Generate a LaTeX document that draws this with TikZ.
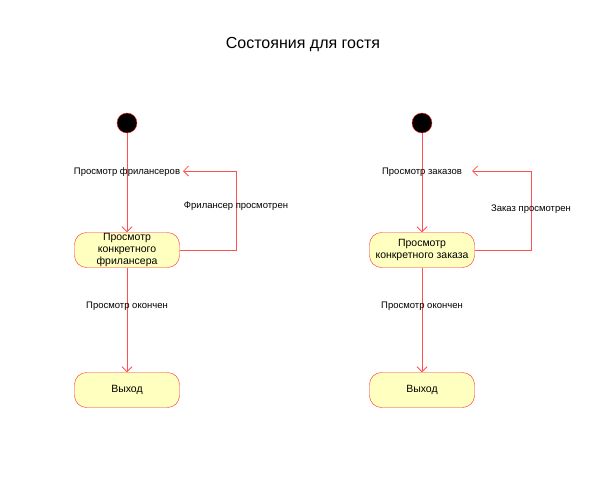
\documentclass[tikz,border=0pt]{standalone}
\usepackage{fontspec}
\setmainfont{Liberation Sans}
\usetikzlibrary{positioning, arrows.meta}
\definecolor{umlred}{RGB}{255,40,40}
\definecolor{umlline}{RGB}{255,80,80}
\definecolor{umlfill}{RGB}{255,255,192}

\begin{document}
\begin{tikzpicture}[x=1pt,y=-1pt,>={Straight Barb[length=5pt,width=10pt]},
    node distance=127pt,on grid,
    init/.style={circle,draw=umlred,fill=black,minimum size=20pt,inner sep=0pt},
    st/.style={rectangle,rounded corners=12pt,draw=umlred,fill=umlfill,
      minimum width=105pt,minimum height=35pt,align=center,inner sep=0pt,
      font=\fontsize{10.5}{11.8}\selectfont},
    lbl/.style={font=\fontsize{9.5}{11}\selectfont,inner sep=0pt},
    tr/.style={->,draw=umlline,line width=0.8pt}]
    \useasboundingbox (0,0) rectangle (606,490);
    \node[font=\fontsize{16}{18}\selectfont] (title) at (303,45) {Состояния для гостя};
    % guest views freelancers
    \node[init] (i1) at (127,123) {};
    \node[st] (s1) [below=of i1] {Просмотр\\конкретного\\фрилансера};
    \node[st] (e1) [below=140pt of s1] {Выход};
    \coordinate (l1a) at (236,250);
    \coordinate (l1b) at (236,171);
    \coordinate (l1c) at (183,171);
    \path[tr]
      (i1) edge node[lbl,pos=0.39] {Просмотр фрилансеров} (s1)
      (s1) edge node[lbl,pos=0.37] {Просмотр окончен} (e1);
    \draw[tr] (s1.east) -- (l1a) -- node[lbl,pos=0.55] {Фрилансер просмотрен} (l1b) -- (l1c);
    % guest views orders
    \node[init] (i2) at (422,123) {};
    \node[st] (s2) [below=of i2] {Просмотр\\конкретного заказа};
    \node[st] (e2) [below=140pt of s2] {Выход};
    \coordinate (l2a) at (531,250);
    \coordinate (l2b) at (531,171);
    \coordinate (l2c) at (472,171);
    \path[tr]
      (i2) edge node[lbl,pos=0.39] {Просмотр заказов} (s2)
      (s2) edge node[lbl,pos=0.37] {Просмотр окончен} (e2);
    \draw[tr] (s2.east) -- (l2a) -- node[lbl,pos=0.52] {Заказ просмотрен} (l2b) -- (l2c);
\end{tikzpicture}
\end{document}
